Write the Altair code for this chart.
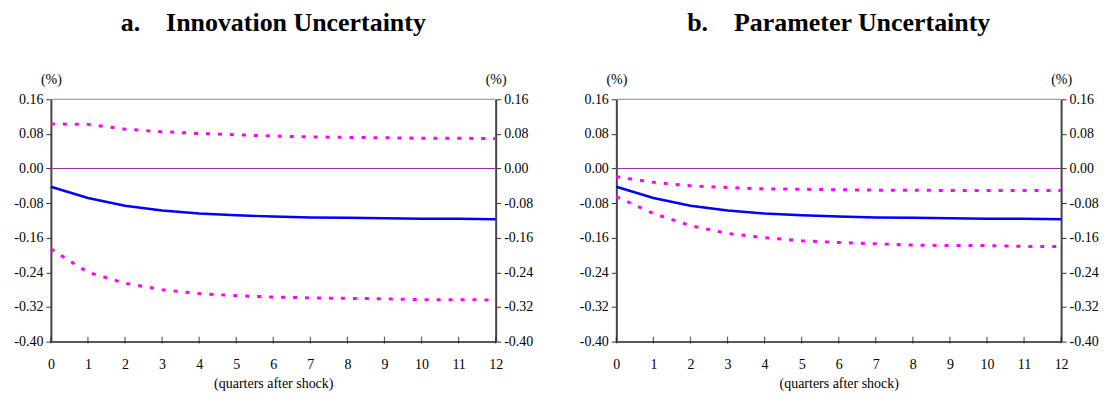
import altair as alt
import pandas as pd

quarters = list(range(13))
y_ticks = [-0.40, -0.32, -0.24, -0.16, -0.08, 0.00, 0.08, 0.16]

NB = "\u00a0"
titles = ["a." + NB * 4 + "Innovation Uncertainty", "b." + NB * 4 + "Parameter Uncertainty"]

a_mid = [-0.042, -0.068, -0.086, -0.097, -0.104, -0.108, -0.111, -0.113, -0.114, -0.115, -0.116, -0.116, -0.117]
a_up = [0.103, 0.102, 0.091, 0.085, 0.081, 0.078, 0.075, 0.073, 0.072, 0.071, 0.070, 0.070, 0.069]
a_lo = [-0.186, -0.240, -0.265, -0.280, -0.289, -0.294, -0.297, -0.299, -0.300, -0.301, -0.303, -0.303, -0.304]

b_mid = [-0.042, -0.068, -0.086, -0.097, -0.104, -0.108, -0.111, -0.113, -0.114, -0.115, -0.116, -0.116, -0.117]
b_up = [-0.019, -0.032, -0.040, -0.044, -0.047, -0.048, -0.049, -0.050, -0.050, -0.051, -0.051, -0.051, -0.051]
b_lo = [-0.065, -0.104, -0.132, -0.150, -0.160, -0.167, -0.171, -0.174, -0.177, -0.178, -0.178, -0.180, -0.180]

FONT = "Liberation Serif"
LABEL_EXPR = "replace(format(datum.value, '.2f'), '\u2212', '-')"


def panel(title, mid, up, lo):
    df_mid = pd.DataFrame({"q": quarters, "v": mid})
    df_band = pd.DataFrame({"q": quarters * 2, "v": up + lo,
                            "s": ["up"] * len(up) + ["lo"] * len(lo)})
    df_ticks = pd.DataFrame({"q": quarters, "v": [y_ticks[0]] * len(quarters)})
    df_zero = pd.DataFrame({"q0": [quarters[0]], "q1": [quarters[-1]], "v": [0.0]})
    df_top = pd.DataFrame({"q0": [quarters[0]], "q1": [quarters[-1]], "v": [y_ticks[-1]]})

    xs = alt.Scale(domain=[0, 12], nice=False, zero=False)
    ys = alt.Scale(domain=[-0.40, 0.16], nice=False, zero=False)

    x_axis = alt.Axis(values=quarters, ticks=False, grid=False, labelPadding=16,
                      title="(quarters after shock)", titlePadding=5,
                      domainColor="#222222", domainWidth=1.5, labelFlush=False,
                      labelFont=FONT, titleFont=FONT, labelColor="#000000",
                      titleColor="#000000",
                      labelFontSize=14, titleFontSize=14, titleFontWeight="normal")

    def y_axis(orient):
        return alt.Axis(orient=orient, values=y_ticks, labelExpr=LABEL_EXPR,
                        grid=False, tickSize=5, labelPadding=3, tickColor="#333333",
                        domainColor="#444444", domainWidth=2,
                        labelFont=FONT, titleFont=FONT, labelColor="#000000",
                        titleColor="#000000",
                        title="(%)", titleAngle=0, titleX=0, titleY=-20,
                        titleAlign="center", titleBaseline="middle",
                        labelFontSize=14, titleFontSize=14, titleFontWeight="normal")

    zero = alt.Chart(df_zero).mark_rule(color="#993399", strokeWidth=1.2).encode(
        x=alt.X("q0:Q", scale=xs, axis=x_axis), x2="q1:Q",
        y=alt.Y("v:Q", scale=ys, axis=y_axis("left")))
    top = alt.Chart(df_top).mark_rule(color="#888888", strokeWidth=1).encode(
        x=alt.X("q0:Q", scale=xs, axis=x_axis), x2="q1:Q",
        y=alt.Y("v:Q", scale=ys, axis=y_axis("right")))
    bands = alt.Chart(df_band).mark_line(
        color="#FF00FF", strokeWidth=3, strokeDash=[4, 8]).encode(
        x=alt.X("q:Q", scale=xs, axis=x_axis),
        y=alt.Y("v:Q", scale=ys, axis=None),
        detail="s:N")
    line = alt.Chart(df_mid).mark_line(color="#0000FF", strokeWidth=2.5).encode(
        x=alt.X("q:Q", scale=xs, axis=x_axis),
        y=alt.Y("v:Q", scale=ys, axis=None))
    ticks = alt.Chart(df_ticks).mark_tick(
        orient="vertical", size=7, thickness=1.2, color="#222222", yOffset=-1.5).encode(
        x=alt.X("q:Q", scale=xs, axis=x_axis),
        y=alt.Y("v:Q", scale=ys, axis=None))

    return alt.layer(zero, top, bands, line, ticks).resolve_axis(
        y="independent").properties(
        width=446, height=243,
        title=alt.TitleParams(title, font=FONT, fontSize=26, fontWeight="bold",
                              anchor="middle", offset=36, color="#000000"))


chart = alt.hconcat(
    panel(titles[0], a_mid, a_up, a_lo),
    panel(titles[1], b_mid, b_up, b_lo),
    spacing=45,
).properties(
    padding={"left": 5, "right": 5, "top": 2, "bottom": 2}
).configure_view(stroke=None)

chart.save("out.html", embed_options={"renderer": "svg", "actions": False})
